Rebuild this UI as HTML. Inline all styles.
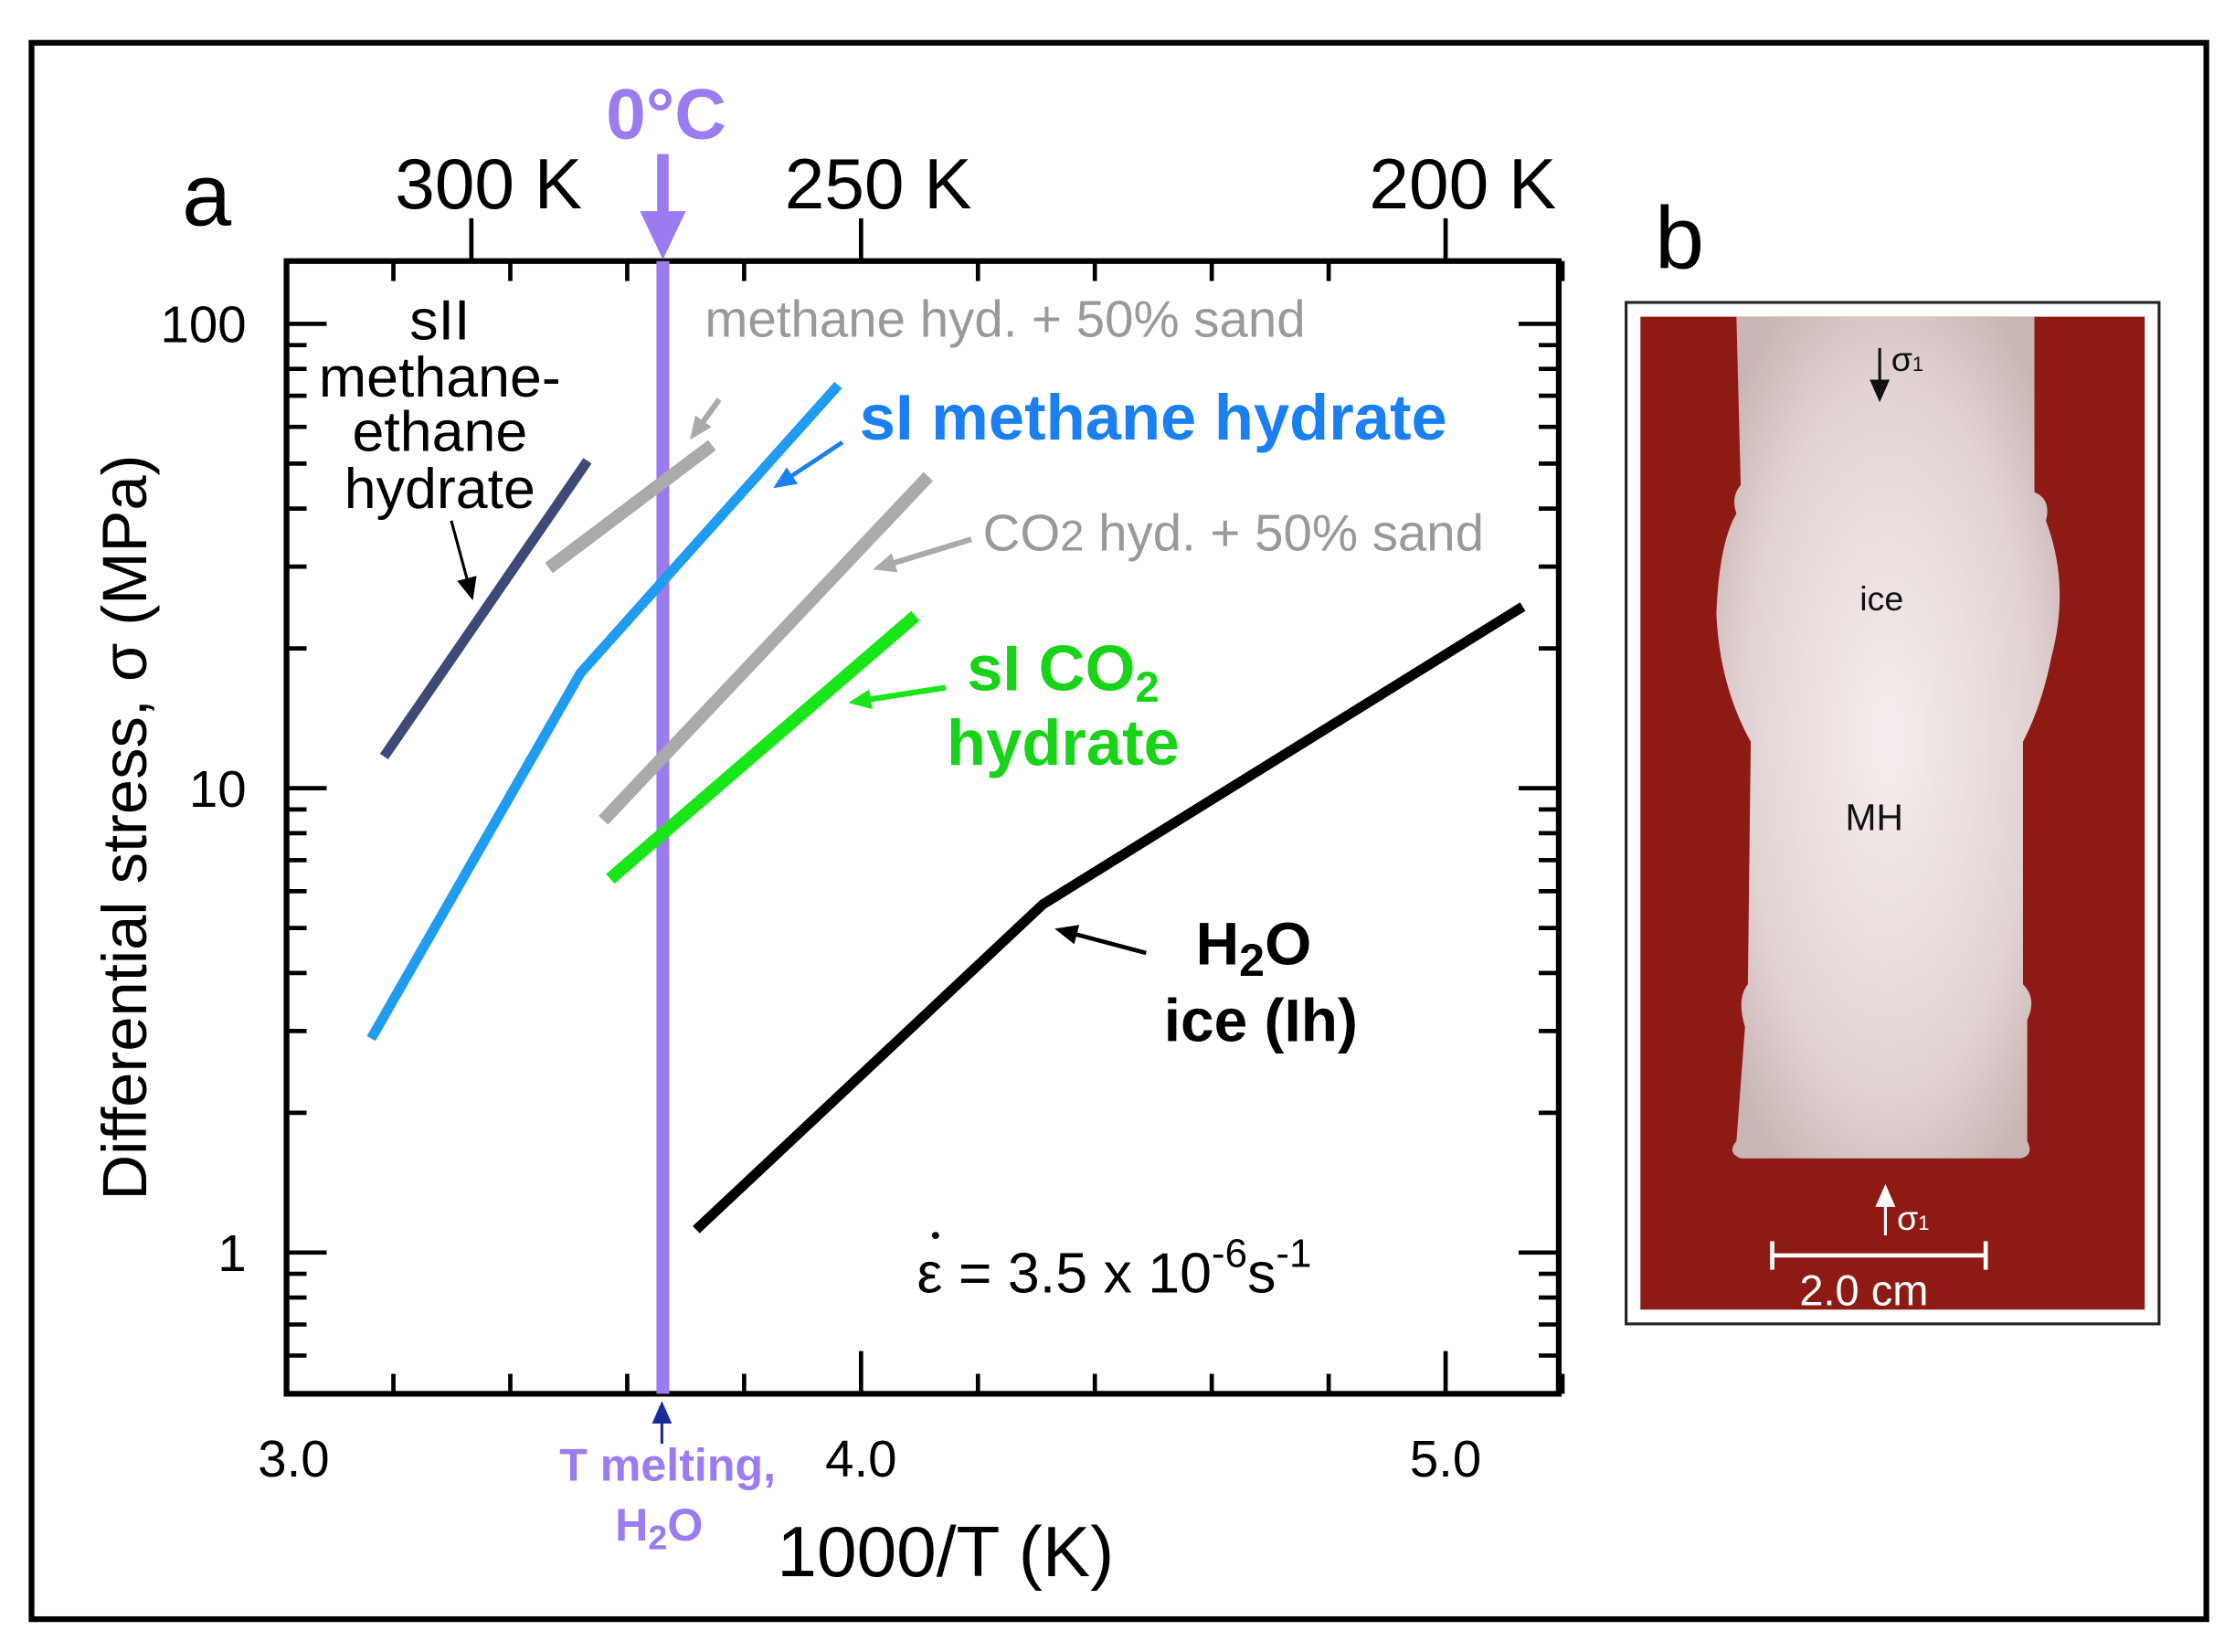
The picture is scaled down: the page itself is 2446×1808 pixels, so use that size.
<!DOCTYPE html>
<html><head><meta charset="utf-8"><style>
html,body{margin:0;padding:0;background:#fff}
svg{display:block}
text{font-family:"Liberation Sans",sans-serif}
</style></head><body>
<svg id="fig" width="2446" height="1808" viewBox="0 0 1560 1158" preserveAspectRatio="none" xmlns="http://www.w3.org/2000/svg">
<defs>
<marker id="ah" markerWidth="16" markerHeight="14" refX="12" refY="7" orient="auto" markerUnits="userSpaceOnUse"><path d="M0,0 L16,7 L0,14 Z" fill="context-stroke"/></marker>
<radialGradient id="cyl" cx="0.5" cy="0.5" r="0.6"><stop offset="0" stop-color="#f6eeee"/><stop offset="0.7" stop-color="#e2d3d3"/><stop offset="1" stop-color="#c9b6b4"/></radialGradient>
</defs>
<rect x="22" y="30" width="1518" height="1105" fill="none" stroke="#000" stroke-width="4"/>
<text x="127" y="158" font-size="62">a</text>
<text x="1155" y="188" font-size="62">b</text>
<g id="plot"></g>
<g>
<rect x="1135" y="212" width="372" height="716" fill="#fff" stroke="#222" stroke-width="2"/>
<rect x="1145" y="222" width="352" height="696" fill="#8e1a14"/>
<path d="M1212,222 L1420,222 L1420,345 Q1432,350 1428,365 Q1445,410 1432,460 Q1425,495 1412,520 L1412,690 Q1422,700 1415,715 L1415,800 Q1420,810 1410,812 L1215,812 Q1205,808 1212,800 L1218,720 Q1212,700 1220,690 L1222,520 Q1200,480 1198,430 Q1200,380 1212,360 Q1208,348 1215,340 Z" fill="url(#cyl)"/>
<text x="1298" y="428" font-family="Liberation Serif,serif" font-size="24" fill="#111">ice</text>
<text x="1288" y="582" font-family="Liberation Serif,serif" font-size="26" fill="#111">MH</text>
<text x="1320" y="260" font-family="Liberation Serif,serif" font-size="24" fill="#111">σ<tspan font-size="14">1</tspan></text>
<path d="M1312,244 L1312,278" stroke="#111" stroke-width="2" marker-end="url(#ah)"/>
<text x="1324" y="862" font-family="Liberation Serif,serif" font-size="24" fill="#fff">σ<tspan font-size="14">1</tspan></text>
<path d="M1316,866 L1316,834" stroke="#fff" stroke-width="2" marker-end="url(#ah)"/>
<path d="M1237,880 L1386,880 M1237,870 L1237,890 M1386,870 L1386,890" stroke="#fff" stroke-width="3"/>
<text x="1256" y="915" font-family="Liberation Serif,serif" font-size="30" fill="#fff">2.0 cm</text>
</g>
</svg>
<script>
const categories=["sII methane-ethane","methane+sand","sI methane","CO2+sand","sI CO2","H2O ice"];
const sIIx=[3.184,3.532], sIIy=[11.7,50.7];
const mSandX=[3.466,3.745], mSandY=[29.8,54.8];
const sIMx=[3.162,3.520,3.961], sIMy=[2.89,17.7,73.8];
const cSandX=[3.559,4.115], cSandY=[8.53,46.9];
const sICx=[3.571,4.093], sICy=[6.38,23.5];
const iceX=[3.718,4.311,5.132], iceY=[1.12,5.62,24.6];
const xTickLabels=["3.0","4.0","5.0"];
const xTickVals=[3.0,4.0,5.0];
const topTickLabels=["300 K","250 K","200 K"];
const topTickTemps=[300,250,200];
const yTickLabels=["100","10","1"];
const yTickVals=[100,10,1];
const meltT=273.15;

const NS="http://www.w3.org/2000/svg";
const g=document.getElementById('plot');
const X=v=>193+408*(v-3);
const Y=v=>878-325.5*Math.log10(v);
const L={l:200,r:1088,t:183,b:977};
function mk(tag,attrs,parent){const e=document.createElementNS(NS,tag);for(const k in attrs)e.setAttribute(k,attrs[k]);(parent||g).appendChild(e);return e;}

const fr=mk('rect',{x:L.l,y:L.t,width:L.r-L.l,height:L.b-L.t,fill:'none',stroke:'#000','stroke-width':4});


for(let v=3.2;v<=5.21;v+=0.2){
  const major=Math.abs(v-4)<1e-6||Math.abs(v-5)<1e-6;
  const len=major?30:14;
  const t=mk('path',{d:`M${X(v)},${L.b} L${X(v)},${L.b-len}`,stroke:'#000','stroke-width':3});
  
  
  if(!major){const t2=mk('path',{d:`M${X(v)},${L.t} L${X(v)},${L.t+14}`,stroke:'#000','stroke-width':3});
  
  }
}
xTickLabels.forEach((s,i)=>{const t=mk('text',{x:X(xTickVals[i])+(i==0?12:0),y:1035,'font-size':36,'text-anchor':'middle'});t.textContent=s;

});
topTickLabels.forEach((s,i)=>{const xv=X(1000/topTickTemps[i]);
const tk=mk('path',{d:`M${xv},${L.t} L${xv},${L.t-30}`,stroke:'#000','stroke-width':3});


const t=mk('text',{x:xv+12,y:146,'font-size':50,'text-anchor':'middle'});t.textContent=s;

});
for(let d=0.1;d<=100;d*=10){for(let m=1;m<=9;m++){const v=d*m;const y=Y(v);if(y<L.t+5||y>L.b-2)continue;
const major=m==1;const len=major?28:14;
const t=mk('path',{d:`M${L.l},${y} L${L.l+len},${y} M${L.r},${y} L${L.r-len},${y}`,stroke:'#000','stroke-width':3});

}}
yTickLabels.forEach((s,i)=>{const t=mk('text',{x:172,y:Y(yTickVals[i])+13,'font-size':36,'text-anchor':'end'});t.textContent=s;

});
let at=mk('text',{x:0,y:0,'font-size':44,'text-anchor':'middle',transform:`translate(102,580) rotate(-90)`});at.textContent='Differential stress, σ (MPa)';


at=mk('text',{x:660,y:1105,'font-size':50,'text-anchor':'middle'});at.textContent='1000/T (K)';


const mx=X(1000/meltT);
const ml=mk('path',{d:`M${mx},${L.t} L${mx},${L.b}`,stroke:'#9b7cf0','stroke-width':9});


const ma=mk('path',{d:`M${mx},108 L${mx},150`,stroke:'#9b7cf0','stroke-width':8});


const mh=mk('path',{d:`M${mx-16},148 L${mx+16},148 L${mx},182 Z`,fill:'#9b7cf0'});


function series(xs,ys,color,w,name){const d=xs.map((x,i)=>(i?'L':'M')+X(x)+','+Y(ys[i])).join(' ');
const p=mk('path',{d,stroke:color,'stroke-width':w,fill:'none','stroke-linejoin':'round'});

}
series(sIIx,sIIy,'#3d4a78',7,'line-sII-methane-ethane');
series(mSandX,mSandY,'#aaaaaa',9,'line-methane-sand');
series(sIMx,sIMy,'#1f9cef',7,'line-sI-methane');
series(cSandX,cSandY,'#aaaaaa',9,'line-co2-sand');
series(sICx,sICy,'#19e619',9,'line-sI-co2');
series(iceX,iceY,'#000000',7,'line-h2o-ice');
function txt(x,y,s,o,name){const t=mk('text',Object.assign({x,y},o));t.innerHTML=s;

return t;}
txt(465,97,'0°C',{'font-size':50,'font-weight':'bold',fill:'#9b7cf0','text-anchor':'middle'},'zero-c-label');
txt(307,238,'sII',{'font-size':40,'text-anchor':'middle'},'sII-label');
txt(307,278,'methane-',{'font-size':40,'text-anchor':'middle'},'sII-label-2');
txt(307,316,'ethane',{'font-size':40,'text-anchor':'middle'},'sII-label-3');
txt(307,356,'hydrate',{'font-size':40,'text-anchor':'middle'},'sII-label-4');
txt(492,236,'methane hyd. + 50% sand',{'font-size':36,fill:'#999'},'methane-sand-label');
txt(600,308,'sI methane hydrate',{'font-size':45,'font-weight':'bold',fill:'#1a7ff0'},'sI-methane-label');
txt(686,386,'CO<tspan font-size="30">2</tspan> hyd. + 50% sand',{'font-size':36,fill:'#999'},'co2-sand-label');
txt(742,484,'sI CO<tspan font-size="30" dy="8">2</tspan>',{'font-size':45,'font-weight':'bold',fill:'#19d319','text-anchor':'middle'},'sI-co2-label');
txt(742,536,'hydrate',{'font-size':45,'font-weight':'bold',fill:'#19d319','text-anchor':'middle'},'sI-co2-label-2');
txt(875,676,'H<tspan font-size="32" dy="8">2</tspan><tspan dy="-8">O</tspan>',{'font-size':42,'font-weight':'bold','text-anchor':'middle'},'ice-label');
txt(880,730,'ice (Ih)',{'font-size':42,'font-weight':'bold','text-anchor':'middle'},'ice-label-2');
txt(640,906,'ε = 3.5 x 10<tspan font-size="28" dy="-18">-6</tspan><tspan dy="18">s</tspan><tspan font-size="28" dy="-18">-1</tspan>',{'font-size':40},'strain-rate-label');
const dot=mk('circle',{cx:653,cy:866,r:2.5,fill:'#000'});


txt(466,1038,'T melting,',{'font-size':32,'font-weight':'bold',fill:'#9b7cf0','text-anchor':'middle'},'melting-label');
txt(460,1080,'H<tspan font-size="24" dy="6">2</tspan><tspan dy="-6">O</tspan>',{'font-size':32,'font-weight':'bold',fill:'#9b7cf0','text-anchor':'middle'},'melting-label-2');
function arr(x1,y1,x2,y2,c,w,name){const p=mk('path',{d:`M${x1},${y1} L${x2},${y2}`,stroke:c,'stroke-width':w,'marker-end':'url(#ah)'});

}
arr(315,365,329,417,'#000',2,'sII-arrow');
arr(502,280,484,305,'#aaa',4,'methane-sand-arrow');
arr(588,310,543,340,'#1a7ff0',3,'sI-methane-arrow');
arr(678,378,613,398,'#aaa',4,'co2-sand-arrow');
arr(660,482,596,492,'#19e619',4,'sI-co2-arrow');
arr(800,668,740,652,'#000',3,'ice-arrow');
arr(462,1012,462,986,'#1a2a9a',2,'melting-arrow');
</script>
</body></html>
